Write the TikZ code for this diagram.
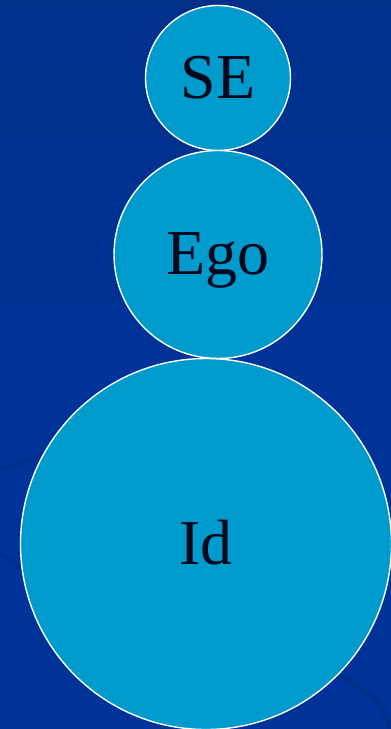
\documentclass[tikz,border=0pt]{standalone}
\usepackage{fontspec}
\setmainfont{Liberation Serif}
\definecolor{deepblue}{RGB}{0,51,153}
\definecolor{topblue}{RGB}{0,48,138}
\definecolor{swoosh}{RGB}{0,44,135}
\definecolor{skyblue}{RGB}{0,155,205}
\definecolor{inkblack}{RGB}{0,8,30}
\usetikzlibrary{positioning}

\begin{document}
\begin{tikzpicture}[x=1pt, y=-1pt,
    psyche/.style={circle, fill=skyblue, draw=white, line width=1.4pt,
      inner sep=0pt, outer sep=0pt, text=inkblack,
      font=\fontsize{64}{70}\selectfont, text height=40pt, text depth=0pt},
    node distance=0pt,
  ]
    % background
    \useasboundingbox (0,0) rectangle (391,729);
    \shade[top color=topblue, bottom color=deepblue, middle color=deepblue] (0,0) rectangle (391,729);
    \begin{scope}
      \clip (0,0) rectangle (391,729);
      \draw[swoosh, line width=5pt, opacity=0.6] (0,470) .. controls (40,455) and (70,450) .. (110,445);
      \draw[swoosh, line width=4pt, opacity=0.6] (0,555) .. controls (15,560) and (30,575) .. (45,590);
      \draw[swoosh, line width=6pt, opacity=0.7] (335,675) .. controls (370,690) and (385,705) .. (391,729);
    \end{scope}
    % the three parts
    \node[psyche, minimum size=145pt] (se) at (218,78) {SE};
    \node[psyche, minimum size=208pt, below=of se] (ego) {Ego};
    \node[psyche, minimum size=371pt, below=of ego, xshift=-12pt] (id) {Id};
  \end{tikzpicture}
\end{document}
